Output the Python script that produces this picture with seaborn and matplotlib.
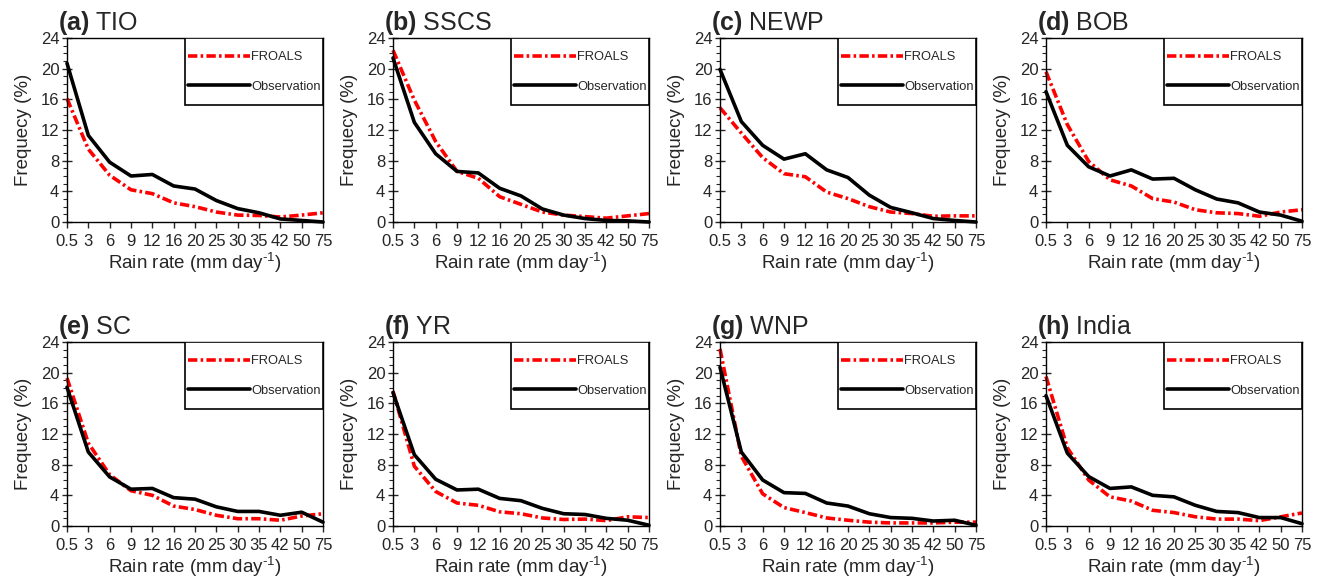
import numpy as np
import pandas as pd
import matplotlib
matplotlib.use("Agg")
import matplotlib.pyplot as plt
import seaborn as sns
from matplotlib.patches import Rectangle
from matplotlib.ticker import MultipleLocator

rain_bins = ["0.5", "3", "6", "9", "12", "16", "20", "25", "30", "35", "42", "50", "75"]
panel_tags = ["(a)", "(b)", "(c)", "(d)", "(e)", "(f)", "(g)", "(h)"]
regions = ["TIO", "SSCS", "NEWP", "BOB", "SC", "YR", "WNP", "India"]

# Frequency (%) for each rain-rate bin
froals_tio = [16.1, 9.5, 6.1, 4.2, 3.7, 2.5, 2.0, 1.3, 0.9, 0.85, 0.65, 0.9, 1.2]
obs_tio = [20.7, 11.3, 7.8, 6.0, 6.2, 4.7, 4.3, 2.8, 1.75, 1.2, 0.4, 0.2, 0.0]
froals_sscs = [22.4, 15.9, 10.5, 6.6, 5.7, 3.3, 2.3, 1.3, 0.9, 0.7, 0.5, 0.8, 1.1]
obs_sscs = [21.4, 13.0, 8.9, 6.6, 6.4, 4.4, 3.4, 1.7, 0.9, 0.45, 0.2, 0.15, 0.0]
froals_newp = [14.9, 11.6, 8.4, 6.3, 5.9, 3.9, 3.05, 2.0, 1.3, 1.1, 0.75, 0.8, 0.8]
obs_newp = [19.9, 13.1, 10.0, 8.2, 8.9, 6.8, 5.8, 3.5, 1.9, 1.2, 0.45, 0.2, 0.0]
froals_bob = [19.6, 12.7, 7.9, 5.5, 4.7, 3.05, 2.6, 1.6, 1.2, 1.1, 0.75, 1.3, 1.6]
obs_bob = [17.0, 10.0, 7.2, 6.0, 6.8, 5.6, 5.7, 4.2, 3.0, 2.5, 1.3, 0.9, 0.1]
froals_sc = [19.3, 10.8, 6.7, 4.6, 4.0, 2.6, 2.15, 1.4, 0.95, 0.95, 0.75, 1.3, 1.6]
obs_sc = [18.1, 9.65, 6.4, 4.8, 4.9, 3.7, 3.5, 2.5, 1.9, 1.9, 1.4, 1.8, 0.5]
froals_yr = [17.6, 7.8, 4.5, 3.0, 2.7, 1.85, 1.6, 1.05, 0.85, 0.9, 0.7, 1.2, 1.1]
obs_yr = [17.4, 9.3, 6.1, 4.7, 4.8, 3.6, 3.3, 2.3, 1.6, 1.5, 1.0, 0.75, 0.1]
froals_wnp = [23.1, 9.1, 4.2, 2.4, 1.75, 1.05, 0.75, 0.5, 0.4, 0.4, 0.4, 0.5, 0.5]
obs_wnp = [20.7, 9.65, 6.0, 4.35, 4.25, 3.0, 2.6, 1.6, 1.1, 1.0, 0.65, 0.75, 0.1]
froals_india = [19.5, 10.2, 6.0, 3.8, 3.25, 2.05, 1.75, 1.2, 0.9, 0.9, 0.7, 1.2, 1.7]
obs_india = [17.0, 9.5, 6.45, 4.9, 5.1, 4.0, 3.8, 2.7, 1.9, 1.75, 1.1, 1.1, 0.3]

froals_all = [froals_tio, froals_sscs, froals_newp, froals_bob,
              froals_sc, froals_yr, froals_wnp, froals_india]
obs_all = [obs_tio, obs_sscs, obs_newp, obs_bob,
           obs_sc, obs_yr, obs_wnp, obs_india]

sns.set_style("ticks")
plt.rcParams['font.family'] = ['Liberation Sans', 'DejaVu Sans']
plt.rcParams['mathtext.fontset'] = 'custom'
plt.rcParams['mathtext.rm'] = 'Liberation Sans'
plt.rcParams['mathtext.bf'] = 'Liberation Sans:bold'
plt.rcParams['mathtext.it'] = 'Liberation Sans:italic'

fig = plt.figure(figsize=(13.22, 5.81), dpi=100)

col_left = [67, 393, 720, 1046]
row_top = [38, 342]
ax_w, ax_h = 256, 184
W, H = 1322, 581

for i in range(8):
    r, c = divmod(i, 4)
    ax = fig.add_axes([col_left[c] / W, 1 - (row_top[r] + ax_h) / H, ax_w / W, ax_h / H])

    df = pd.DataFrame({
        "bin": list(range(len(rain_bins))) * 2,
        "freq": froals_all[i] + obs_all[i],
        "source": ["FROALS"] * len(rain_bins) + ["Observation"] * len(rain_bins),
    })
    sns.lineplot(data=df, x="bin", y="freq", hue="source", style="source",
                 hue_order=["FROALS", "Observation"], style_order=["FROALS", "Observation"],
                 palette={"FROALS": "#ff0000", "Observation": "black"},
                 dashes={"FROALS": (2.6, 0.9, 0.7, 0.9), "Observation": ""},
                 linewidth=2.6, legend=False, ax=ax, clip_on=False)

    ax.set_xlim(0, len(rain_bins) - 1)
    ax.set_ylim(0, 24)
    ax.set_xticks(range(len(rain_bins)))
    ax.set_xticklabels(rain_bins)
    ax.yaxis.set_major_locator(MultipleLocator(4))
    ax.yaxis.set_minor_locator(MultipleLocator(1))
    ax.tick_params(axis="x", direction="out", length=4, width=1, labelsize=12, pad=5)
    ax.tick_params(axis="y", which="major", direction="inout", length=7, width=1, labelsize=12, pad=2)
    ax.tick_params(axis="y", which="minor", direction="out", length=3, width=0.8)
    for sp in ax.spines.values():
        sp.set_visible(True)
        sp.set_linewidth(1.0)
        sp.set_color("black")

    ax.set_xlabel(r"Rain rate (mm day$^{\text{-1}}$)", fontsize=13.5, labelpad=1)
    ax.set_ylabel("Frequecy (%)", fontsize=13.5, labelpad=6)

    ax.set_title(r"$\mathbf{" + panel_tags[i] + r"}$ " + regions[i],
                 loc="left", x=-0.035, fontsize=18, pad=6)

    # legend box in the top-right corner
    ax.add_patch(Rectangle((0.461, 0.636), 0.539, 0.364, transform=ax.transAxes,
                           facecolor="white", edgecolor="black", lw=1.2, zorder=3))
    leg = ax.legend(handles=ax.lines[:2], labels=["FROALS", "Observation"],
                    loc="center left", bbox_to_anchor=(0.472, 0.815),
                    frameon=False, fontsize=9.3, handlelength=4.8,
                    handletextpad=0.1, labelspacing=1.35,
                    borderpad=0, borderaxespad=0)
    leg.set_zorder(4)

fig.savefig("out.png", dpi=100)
